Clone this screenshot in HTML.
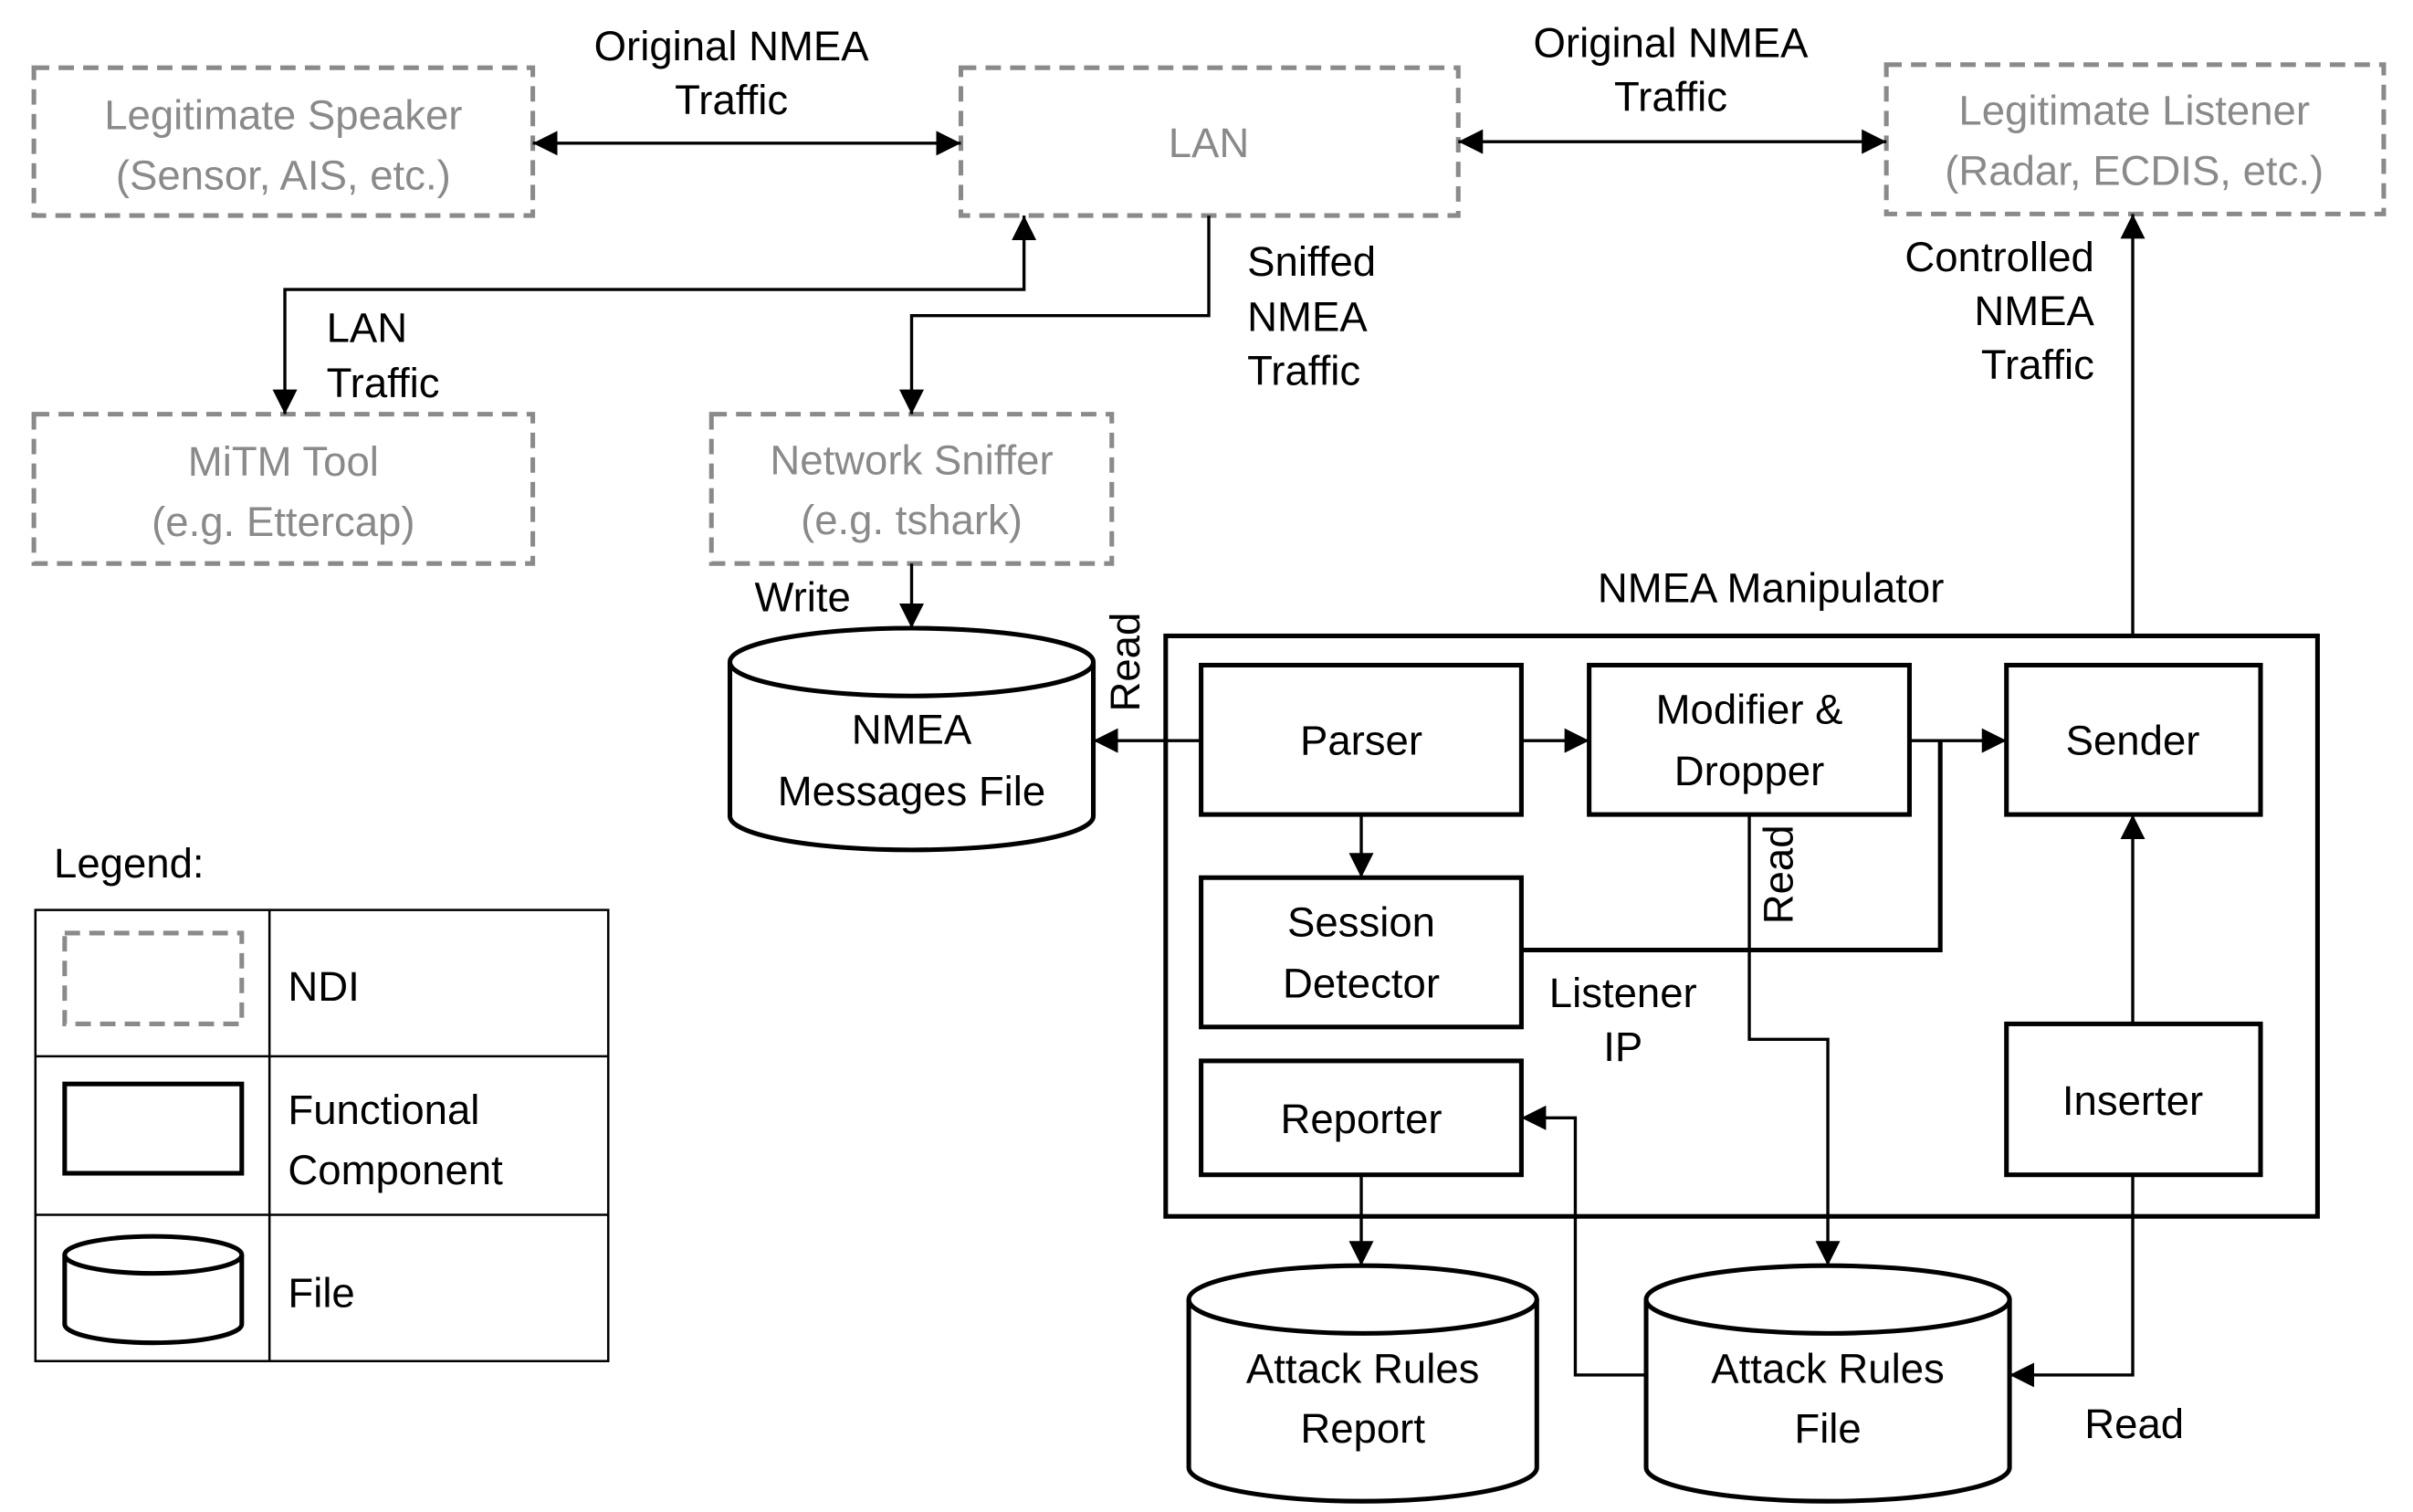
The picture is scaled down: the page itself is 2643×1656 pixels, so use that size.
<!DOCTYPE html>
<html><head><meta charset="utf-8"><style>
html,body{margin:0;padding:0;background:#fff;}
svg{display:block;}
text{font-family:"Liberation Sans",Arial,sans-serif;font-size:27px;fill:#000;}
.g{fill:#8a8a8a;font-size:27px;}
.c{text-anchor:middle;}
</style></head><body>
<svg width="2643" height="1656" viewBox="0 0 1567 982" preserveAspectRatio="none" xmlns="http://www.w3.org/2000/svg">
<defs>
<marker id="a" viewBox="0 0 10 10" refX="10" refY="5" markerWidth="8" markerHeight="8" orient="auto-start-reverse"><path d="M0,0 L10,5 L0,10 z" fill="#000"/></marker>
</defs>
<g fill="none" stroke="#8a8a8a" stroke-width="3" stroke-dasharray="10,6">
<rect x="22" y="44" width="324" height="96"/>
<rect x="624" y="44" width="323" height="96"/>
<rect x="1225" y="42" width="323" height="97"/>
<rect x="22" y="269" width="324" height="97"/>
<rect x="462" y="269" width="260" height="97"/>
<rect x="42" y="606" width="115" height="59"/>
</g>
<text class="g c" x="184" y="84">Legitimate Speaker</text>
<text class="g c" x="184" y="123">(Sensor, AIS, etc.)</text>
<text class="g c" x="785" y="102">LAN</text>
<text class="g c" x="1386" y="81">Legitimate Listener</text>
<text class="g c" x="1386" y="120">(Radar, ECDIS, etc.)</text>
<text class="g c" x="184" y="309">MiTM Tool</text>
<text class="g c" x="184" y="348">(e.g. Ettercap)</text>
<text class="g c" x="592" y="308">Network Sniffer</text>
<text class="g c" x="592" y="347">(e.g. tshark)</text>

<g fill="none" stroke="#000" stroke-width="2">
<line x1="346" y1="93" x2="624" y2="93" marker-start="url(#a)" marker-end="url(#a)"/>
<line x1="947" y1="92" x2="1225" y2="92" marker-start="url(#a)" marker-end="url(#a)"/>
<polyline points="185,269 185,188 665,188 665,140" marker-start="url(#a)" marker-end="url(#a)"/>
<polyline points="785,140 785,205 592,205 592,269" marker-end="url(#a)"/>
<line x1="592" y1="366" x2="592" y2="408" marker-end="url(#a)"/>
<line x1="780" y1="481" x2="710" y2="481" marker-end="url(#a)"/>
<line x1="988" y1="481" x2="1032" y2="481" marker-end="url(#a)"/>
<line x1="1240" y1="481" x2="1303" y2="481" marker-end="url(#a)"/>
<line x1="884" y1="529" x2="884" y2="570" marker-end="url(#a)"/>
<polyline points="988,617 1260,617 1260,481" stroke-width="3"/>
<polyline points="1136,529 1136,675 1187,675 1187,822" marker-end="url(#a)"/>
<line x1="1385" y1="665" x2="1385" y2="529" marker-end="url(#a)"/>
<line x1="1385" y1="413" x2="1385" y2="139" marker-end="url(#a)"/>
<line x1="884" y1="763" x2="884" y2="822" marker-end="url(#a)"/>
<polyline points="1069,893 1023,893 1023,726 988,726" marker-end="url(#a)"/>
<polyline points="1385,763 1385,893 1305,893" marker-end="url(#a)"/>
</g>
<g fill="none" stroke="#000" stroke-width="3">
<rect x="757" y="413" width="748" height="377"/>
<rect x="780" y="432" width="208" height="97"/>
<rect x="1032" y="432" width="208" height="97"/>
<rect x="1303" y="432" width="165" height="97"/>
<rect x="780" y="570" width="208" height="97"/>
<rect x="780" y="689" width="208" height="74"/>
<rect x="1303" y="665" width="165" height="98"/>
<rect x="42" y="704" width="115" height="58"/>
<path d="M474,430 L474,530 A118,22 0 0 0 710,530 L710,430"/>
<ellipse cx="592" cy="430" rx="118" ry="22"/>
<path d="M772,844 L772,953 A113,22 0 0 0 998,953 L998,844"/>
<ellipse cx="885" cy="844" rx="113" ry="22"/>
<path d="M1069,844 L1069,953 A118,22 0 0 0 1305,953 L1305,844"/>
<ellipse cx="1187" cy="844" rx="118" ry="22"/>
<path d="M42,815 L42,860 A57,12 0 0 0 157,860 L157,815"/>
<ellipse cx="99.5" cy="815" rx="57.5" ry="12"/>
</g>
<g fill="none" stroke="#000" stroke-width="1.5">
<rect x="23" y="591" width="372" height="293"/>
<line x1="175" y1="591" x2="175" y2="884"/>
<line x1="23" y1="686" x2="395" y2="686"/>
<line x1="23" y1="789" x2="395" y2="789"/>
</g>

<text class="c" x="475" y="39">Original NMEA</text>
<text class="c" x="475" y="74">Traffic</text>
<text class="c" x="1085" y="37">Original NMEA</text>
<text class="c" x="1085" y="72">Traffic</text>
<text x="212" y="222">LAN</text>
<text x="212" y="258">Traffic</text>
<text x="810" y="179">Sniffed</text>
<text x="810" y="215">NMEA</text>
<text x="810" y="250">Traffic</text>
<text x="1360" y="176" text-anchor="end">Controlled</text>
<text x="1360" y="211" text-anchor="end">NMEA</text>
<text x="1360" y="246" text-anchor="end">Traffic</text>
<text x="490" y="397">Write</text>
<text transform="translate(740,430) rotate(-90)" class="c">Read</text>
<text transform="translate(1164,568) rotate(-90)" class="c">Read</text>
<text class="c" x="1150" y="391">NMEA Manipulator</text>
<text class="c" x="592" y="483">NMEA</text>
<text class="c" x="592" y="523">Messages File</text>
<text class="c" x="884" y="490">Parser</text>
<text class="c" x="1136" y="470">Modifier &amp;</text>
<text class="c" x="1136" y="510">Dropper</text>
<text class="c" x="1385" y="490">Sender</text>
<text class="c" x="884" y="608">Session</text>
<text class="c" x="884" y="648">Detector</text>
<text class="c" x="1054" y="654">Listener</text>
<text class="c" x="1054" y="689">IP</text>
<text class="c" x="884" y="736">Reporter</text>
<text class="c" x="1385" y="724">Inserter</text>
<text class="c" x="885" y="898">Attack Rules</text>
<text class="c" x="885" y="937">Report</text>
<text class="c" x="1187" y="898">Attack Rules</text>
<text class="c" x="1187" y="937">File</text>
<text class="c" x="1386" y="934">Read</text>
<text x="35" y="570">Legend:</text>
<text x="187" y="650">NDI</text>
<text x="187" y="730">Functional</text>
<text x="187" y="769">Component</text>
<text x="187" y="849">File</text>
</svg>
</body></html>
